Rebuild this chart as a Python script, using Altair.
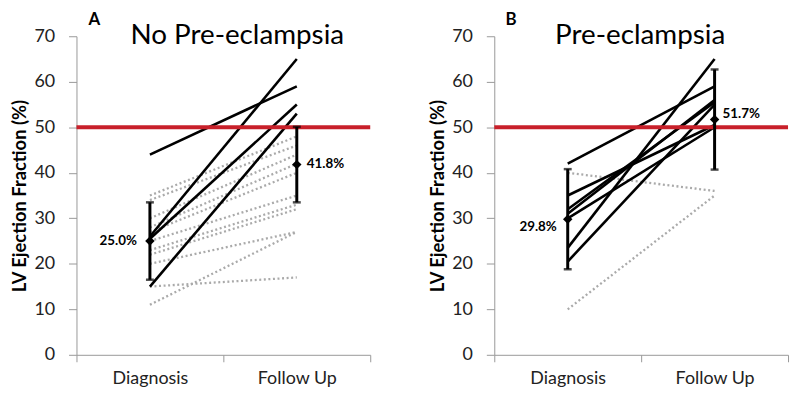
import altair as alt
import pandas as pd

times = ["Diagnosis", "Follow Up"]

# Panel A: No Pre-eclampsia
a_solid_diag = [44, 26, 25.5, 15]
a_solid_follow = [59, 65, 55, 53]
a_dot_diag = [35, 34, 30, 28, 27, 25, 23, 22, 20, 15, 11]
a_dot_follow = [48, 46, 44, 42, 40, 35, 33, 32, 27, 17, 27]
a_mean = [25.0, 41.8]
a_sd = [8.5, 8.3]
a_labels = ["25.0%", "41.8%"]

# Panel B: Pre-eclampsia
b_solid_diag = [42, 35, 32, 31, 30, 23.5, 20.5]
b_solid_follow = [59, 50.5, 55.5, 56, 50, 65, 55]
b_dot_diag = [40, 10]
b_dot_follow = [36, 35]
b_mean = [29.8, 51.7]
b_sd = [11.0, 11.0]
b_labels = ["29.8%", "51.7%"]

threshold = [50]
y_ticks = [0, 10, 20, 30, 40, 50, 60, 70]

RED = "#c8202a"
GRAY = "#aaaaaa"
W, H = 296, 321


def lines_df(d, f, style):
    rows = []
    for i, (a, b) in enumerate(zip(d, f)):
        rows.append({"id": f"{style}{i}", "time": times[0], "value": a})
        rows.append({"id": f"{style}{i}", "time": times[1], "value": b})
    return pd.DataFrame(rows)


def panel(letter, heading, sd_, sf_, dd_, df_, mean, sd, labels,
          letter_x, heading_x, lab_off):
    X = alt.X("time:N", title=None,
              scale=alt.Scale(type="band", domain=times, paddingInner=0, paddingOuter=0),
              axis=alt.Axis(tickBand="extent", labelAngle=0, labelFontSize=18,
                            labelPadding=8, tickSize=7, domainColor="#999999",
                            tickColor="#999999", labelColor="#222222"))
    Y = alt.Y("value:Q", title="LV Ejection Fraction (%)",
              scale=alt.Scale(domain=[0, 70], nice=False, zero=True),
              axis=alt.Axis(values=y_ticks, grid=False, labelFontSize=18, labelPadding=14,
                            tickSize=8, domainColor="#999999", tickColor="#999999",
                            labelColor="#222222", titleFontSize=18.5, titleFontWeight="bold",
                            titleColor="#000000", titlePadding=4))

    dots = alt.Chart(lines_df(dd_, df_, "d")).mark_line(
        color=GRAY, strokeWidth=2.3, strokeDash=[2, 2.6]).encode(x=X, y=Y, detail="id:N")
    solid = alt.Chart(lines_df(sd_, sf_, "s")).mark_line(
        color="black", strokeWidth=2.6).encode(x=X, y=Y, detail="id:N")
    red = alt.Chart(pd.DataFrame({"value": threshold})).mark_rule(
        color=RED, strokeWidth=4).encode(y=Y)

    stats = pd.DataFrame({
        "time": times,
        "mean": mean,
        "lo": [m - s for m, s in zip(mean, sd)],
        "hi": [m + s for m, s in zip(mean, sd)],
        "label": labels,
    })
    base = alt.Chart(stats)
    bars = base.mark_rule(color="black", strokeWidth=3).encode(
        x=X, y=alt.Y("lo:Q", scale=alt.Scale(domain=[0, 70])), y2="hi:Q")
    cap_lo = base.mark_tick(color="black", thickness=2.5, size=8, orient="horizontal").encode(
        x=X, y=alt.Y("lo:Q"))
    cap_hi = base.mark_tick(color="black", thickness=2.5, size=8, orient="horizontal").encode(
        x=X, y=alt.Y("hi:Q"))
    pts = base.mark_point(shape="diamond", filled=True, color="black", size=90,
                          opacity=1).encode(x=X, y=alt.Y("mean:Q"))

    (dx0, dy0), (dx1, dy1) = lab_off
    lab0 = base.transform_filter(alt.datum.time == times[0]).mark_text(
        align="right", baseline="middle", dx=dx0, dy=dy0, fontSize=13.5,
        fontWeight="bold", color="black").encode(x=X, y=alt.Y("mean:Q"), text="label:N")
    lab1 = base.transform_filter(alt.datum.time == times[1]).mark_text(
        align="left", baseline="middle", dx=dx1, dy=dy1, fontSize=13.5,
        fontWeight="bold", color="black").encode(x=X, y=alt.Y("mean:Q"), text="label:N")

    head = alt.Chart(pd.DataFrame({"t": [heading]})).mark_text(
        fontSize=28, align="center", baseline="alphabetic", color="black").encode(
        text="t:N", x=alt.value(heading_x), y=alt.value(8))
    let = alt.Chart(pd.DataFrame({"t": [letter]})).mark_text(
        fontSize=17, fontWeight="bold", align="center", baseline="alphabetic",
        color="black").encode(text="t:N", x=alt.value(letter_x), y=alt.value(-11))

    return alt.layer(dots, solid, red, bars, cap_lo, cap_hi, pts, lab0, lab1, head, let).properties(
        width=W, height=H)


left = panel("A", "No Pre-eclampsia", a_solid_diag, a_solid_follow, a_dot_diag, a_dot_follow,
             a_mean, a_sd, a_labels, 18, 162, [(-13, 0), (10, -1)])
right = panel("B", "Pre-eclampsia", b_solid_diag, b_solid_follow, b_dot_diag, b_dot_follow,
              b_mean, b_sd, b_labels, 17, 147, [(-11, 8), (8, -6)])

chart = alt.hconcat(left, right, spacing=57).properties(
    padding={"left": 3, "top": 2, "right": 2, "bottom": 2}
).configure(font="Lato").configure_view(stroke=None)

chart.save("out.html", embed_options={"renderer": "svg", "actions": False})
